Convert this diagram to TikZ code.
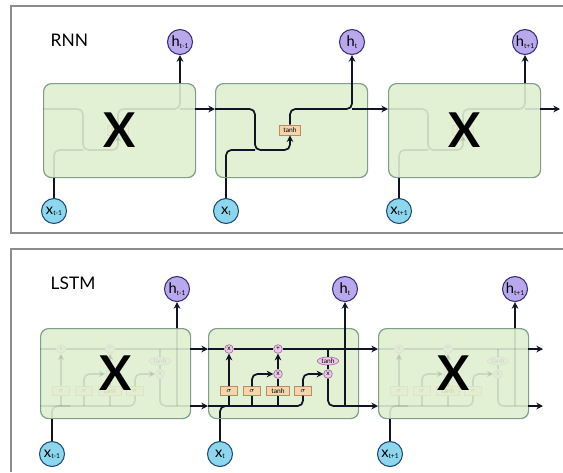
\documentclass[tikz,border=0pt]{standalone}
\usepackage{fontspec}
\setmainfont{Lato}
\usetikzlibrary{arrows.meta,shapes.geometric}
\definecolor{cellfill}{RGB}{226,240,212}
\definecolor{cellborder}{RGB}{128,158,138}
\definecolor{hfill}{RGB}{186,168,236}
\definecolor{hborder}{RGB}{52,44,120}
\definecolor{xfill}{RGB}{140,214,238}
\definecolor{xborder}{RGB}{30,72,120}
\definecolor{gatefill}{RGB}{246,212,172}
\definecolor{gateborder}{RGB}{186,140,100}
\definecolor{opfill}{RGB}{238,202,234}
\definecolor{opborder}{RGB}{168,104,160}
\definecolor{linecol}{RGB}{16,20,36}
\definecolor{panelgray}{RGB}{140,140,140}

\newcommand{\lowidx}[1]{{\fontsize{5}{5}\selectfont\raisebox{-1pt}{#1}}}

% inside of one RNN cell, #1 = left edge, #2 = name prefix
\newcommand{\rnncell}[2]{%
  \coordinate (#2in) at (#1,109);
  \coordinate (#2out) at ({#1+152},109);
  \coordinate (#2bend) at ({#1+40},150);
  \coordinate (#2join) at ({#1+137},109);
  \coordinate (#2top) at ({#1+137},83);
  \coordinate (#2bot) at ({#1+11},177);
  \node[gate, minimum width=16pt, minimum height=7.5pt] (#2tanh) at ({#1+75},130) {tanh};
  \draw[arr] (#2in) -| (#2bend) -| (#2tanh.south);
  \draw[ln] (#2bot) |- (#2bend);
  \draw[ln] (#2tanh.north) |- (#2join) -- (#2top);
  \draw[ln] (#2join) -- (#2out);
}

% inside of one LSTM cell, #1 = left edge, #2 = name prefix
\newcommand{\lstmcell}[2]{%
  \coordinate (#2cin) at (#1,349);
  \coordinate (#2cout) at ({#1+150},349);
  \coordinate (#2hin) at (#1,406);
  \coordinate (#2hout) at ({#1+150},406);
  \coordinate (#2bot) at ({#1+12},418);
  \coordinate (#2top) at ({#1+137},328);
  \node[op] (#2f) at ({#1+21},349) {x};
  \node[op] (#2add) at ({#1+70},349) {+};
  \node[op] (#2i) at ({#1+70},374) {x};
  \node[optanh] (#2c) at ({#1+120},361) {tanh};
  \node[op] (#2o) at ({#1+120},374) {x};
  \node[gate] (#2sf) at ({#1+21},391) {$\sigma$};
  \node[gate] (#2si) at ({#1+44},391) {$\sigma$};
  \node[gate, minimum width=17pt] (#2g) at ({#1+70},391) {tanh};
  \node[gate] (#2so) at ({#1+95},391) {$\sigma$};
  % cell state
  \draw[ln] (#2cin) -- (#2f.west);
  \draw[ln] (#2f.east) -- (#2add.west);
  \draw[ln] (#2add.east) -- (#2cout);
  \draw[ln] (#2c.north) -- (#2c.north |- #2cin);
  % hidden state and gates
  \draw[ln] (#2hin) -| (#2so.south);
  \draw[ln] (#2bot) |- ({#1+30},406);
  \draw[ln] (#2sf.south |- #2hin) -- (#2sf.south);
  \draw[ln] (#2si.south |- #2hin) -- (#2si.south);
  \draw[ln] (#2g.south |- #2hin) -- (#2g.south);
  \draw[arr] (#2sf.north) -- (#2f.south);
  \draw[arr] (#2si.north) |- (#2i.west);
  \draw[ln] (#2g.north) -- (#2i.south);
  \draw[arr] (#2i.north) -- (#2add.south);
  \draw[arr] (#2so.north) |- (#2o.west);
  \draw[ln] (#2c.south) -- (#2o.north);
  \draw[ln] (#2o.south) |- (#2hout);
  \draw[ln] (#2top |- #2hin) -- (#2top);
}

\begin{document}
\begin{tikzpicture}[x=0.75pt, y=-0.75pt,
    cell/.style={rectangle, draw=cellborder, fill=cellfill, line width=0.9pt,
                 rounded corners=6pt, anchor=north west},
    hnode/.style={circle, draw=hborder, fill=hfill, line width=0.8pt,
                  minimum size=18.75pt, inner sep=0pt, font=\fontsize{11}{11}\selectfont},
    xnode/.style={hnode, draw=xborder, fill=xfill},
    gate/.style={rectangle, draw=gateborder, fill=gatefill, line width=0.5pt,
                 minimum width=12.5pt, minimum height=6.5pt, inner sep=0.8pt,
                 font=\fontsize{5}{5}\selectfont},
    op/.style={circle, draw=opborder, fill=opfill, line width=0.5pt,
               minimum size=6.5pt, inner sep=0pt, font=\fontsize{5}{5}\selectfont},
    optanh/.style={ellipse, draw=opborder, fill=opfill, line width=0.5pt,
                   minimum width=16pt, minimum height=6pt, inner sep=0pt,
                   font=\fontsize{5}{5}\selectfont},
    ln/.style={line width=1.3pt, draw=linecol, rounded corners=4pt},
    arr/.style={ln, -{Stealth[length=5pt,width=5pt]}},
    ghost/.style={opacity=0.1},
    bigx/.style={font=\fontsize{36}{36}\selectfont\bfseries},
    title/.style={font=\fontsize{13}{13}\selectfont, anchor=west},
    panel/.style={draw=panelgray, line width=0.8pt}]
    \fill[white] (0,0) rectangle (563,472);
    \useasboundingbox (0,0) rectangle (563,472);

    % RNN panel
    \draw[panel] (563,6) -- (11,6) -- (11,233) -- (563,233);
    \node[title] (rnn) at (46,40) {RNN};
    \node[cell, minimum width=114pt, minimum height=70.5pt] (r1) at (43,83) {};
    \node[cell, minimum width=114pt, minimum height=70.5pt] (r2) at (215,83) {};
    \node[cell, minimum width=114pt, minimum height=70.5pt] (r3) at (388,83) {};
    \begin{scope}[ghost]
        \rnncell{43}{ra}
        \rnncell{388}{rc}
    \end{scope}
    \rnncell{215}{rb}
    \node[bigx] at (r1) {X};
    \node[bigx] at (r3) {X};
    \coordinate (rend) at (560,109);
    \draw[arr] (raout) -- (rbin);
    \draw[arr] (rbout) -- (rcin);
    \draw[arr] (rcout) -- (rend);
    \node[hnode] (h1) at (180,42) {h\lowidx{t-1}};
    \node[hnode] (h2) at (352,42) {h\lowidx{t}};
    \node[hnode] (h3) at (525,42) {h\lowidx{t+1}};
    \node[xnode] (x1) at (54,211) {x\lowidx{t-1}};
    \node[xnode] (x2) at (226,211) {x\lowidx{t}};
    \node[xnode] (x3) at (399,211) {x\lowidx{t+1}};
    \foreach \i in {1,2,3} {
        \draw[arr] (h\i |- r\i.north) -- (h\i.south);
        \draw[ln] (x\i.north) -- (x\i |- r\i.south);
    }

    % LSTM panel
    \draw[panel] (563,249) -- (11,249) -- (11,472);
    \node[title] (lstm) at (46,283) {LSTM};
    \node[cell, minimum width=112.5pt, minimum height=67.5pt] (l1) at (40,328) {};
    \node[cell, minimum width=112.5pt, minimum height=67.5pt] (l2) at (208,328) {};
    \node[cell, minimum width=112.5pt, minimum height=67.5pt] (l3) at (378,328) {};
    \begin{scope}[ghost]
        \lstmcell{40}{la}
        \lstmcell{378}{lc}
    \end{scope}
    \lstmcell{208}{lb}
    \node[bigx] at (l1) {X};
    \node[bigx] at (l3) {X};
    \coordinate (lcend) at (543,349);
    \coordinate (lhend) at (543,406);
    \draw[arr] (lacout) -- (lbcin);
    \draw[arr] (lahout) -- (lbhin);
    \draw[arr] (lbcout) -- (lccin);
    \draw[arr] (lbhout) -- (lchin);
    \draw[arr] (lccout) -- (lcend);
    \draw[arr] (lchout) -- (lhend);
    \node[hnode] (hh1) at (177,289) {h\lowidx{t-1}};
    \node[hnode] (hh2) at (345,289) {h\lowidx{t}};
    \node[hnode] (hh3) at (515,289) {h\lowidx{t+1}};
    \node[xnode] (xx1) at (52,454) {x\lowidx{t-1}};
    \node[xnode] (xx2) at (220,454) {x\lowidx{t}};
    \node[xnode] (xx3) at (390,454) {x\lowidx{t+1}};
    \foreach \i in {1,2,3} {
        \draw[arr] (hh\i |- l\i.north) -- (hh\i.south);
        \draw[ln] (xx\i.north) -- (xx\i |- l\i.south);
    }
\end{tikzpicture}
\end{document}
